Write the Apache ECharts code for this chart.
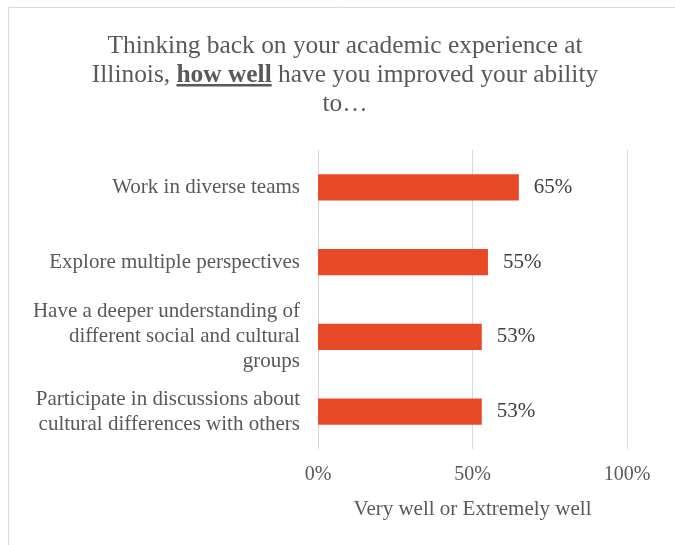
<!DOCTYPE html>
<html>
<head>
<meta charset="utf-8">
<script src="https://cdn.jsdelivr.net/npm/echarts@6/dist/echarts.min.js"></script>
<style>
  html, body { margin: 0; padding: 0; background: #fff; }
  #chart { width: 675px; height: 545px; }
</style>
</head>
<body>
<div id="chart"></div>
<script>
// Survey items, listed top to bottom
const categories = [
  'Work in diverse teams',
  'Explore multiple perspectives',
  'Have a deeper understanding of\ndifferent social and cultural\ngroups',
  'Participate in discussions about\ncultural differences with others'
];
// Share answering "Very well" or "Extremely well" (%)
const values = [65, 55, 53, 53];
const xTicks = [0, 50, 100];

const serif = 'Liberation Serif';
const titleSize = 25.4;
const titleCenterX = 345;
const titleTop = 32;
const titleLineH = 29;

// Place the underline under the bold words of the second title line
const ctx = document.createElement('canvas').getContext('2d');
function textW(str, weight) {
  ctx.font = weight + ' ' + titleSize + 'px "' + serif + '"';
  return ctx.measureText(str).width;
}
const pre = 'Illinois, ', bold = 'how well', post = ' have you improved your ability';
const line2W = textW(pre, 'normal') + textW(bold, 'bold') + textW(post, 'normal');
const ulX = titleCenterX - line2W / 2 + textW(pre, 'normal');
const ulW = textW(bold, 'bold');
const ulY = titleTop + titleLineH * 1.5 + 8.5;

const chart = echarts.init(document.getElementById('chart'));
chart.setOption({
  animation: false,
  backgroundColor: '#fff',
  title: {
    text: 'Thinking back on your academic experience at\n' + pre + '{b|' + bold + '}' + post + '\nto…',
    left: titleCenterX,
    top: titleTop,
    textAlign: 'center',
    padding: 0,
    textStyle: {
      fontFamily: serif,
      fontSize: titleSize,
      fontWeight: 'normal',
      color: '#595959',
      lineHeight: titleLineH,
      rich: {
        b: { fontFamily: serif, fontSize: titleSize, fontWeight: 'bold', color: '#595959', lineHeight: titleLineH }
      }
    }
  },
  graphic: [
    { type: 'rect', shape: { x: 8.5, y: 7.5, width: 700, height: 600 },
      style: { fill: 'none', stroke: '#d9d9d9', lineWidth: 1 }, silent: true },
    { type: 'rect', shape: { x: ulX, y: ulY, width: ulW, height: 2.5 },
      style: { fill: '#595959' }, silent: true }
  ],
  grid: { left: 318, right: 48, top: 150, bottom: 96, containLabel: false },
  xAxis: {
    type: 'value',
    min: xTicks[0],
    max: xTicks[xTicks.length - 1],
    interval: 50,
    name: 'Very well or Extremely well',
    nameLocation: 'middle',
    nameGap: 50,
    nameTextStyle: { fontFamily: serif, fontSize: 21, color: '#595959' },
    axisLine: { show: false },
    axisTick: { show: false },
    axisLabel: { formatter: '{value}%', fontFamily: serif, fontSize: 20, color: '#595959', margin: 16 },
    splitLine: { show: true, lineStyle: { color: '#d9d9d9', width: 1 } }
  },
  yAxis: {
    type: 'category',
    data: categories,
    inverse: true,
    axisLine: { show: true, lineStyle: { color: '#d9d9d9', width: 1 } },
    axisTick: { show: false },
    axisLabel: { fontFamily: serif, fontSize: 21, color: '#595959', margin: 18, lineHeight: 25, align: 'right' }
  },
  series: [{
    type: 'bar',
    data: values,
    barWidth: '35%',
    itemStyle: { color: '#E84A27' },
    label: {
      show: true,
      position: 'right',
      distance: 15,
      formatter: '{c}%',
      fontFamily: serif,
      fontSize: 21,
      color: '#404040'
    }
  }]
});
</script>
</body>
</html>
